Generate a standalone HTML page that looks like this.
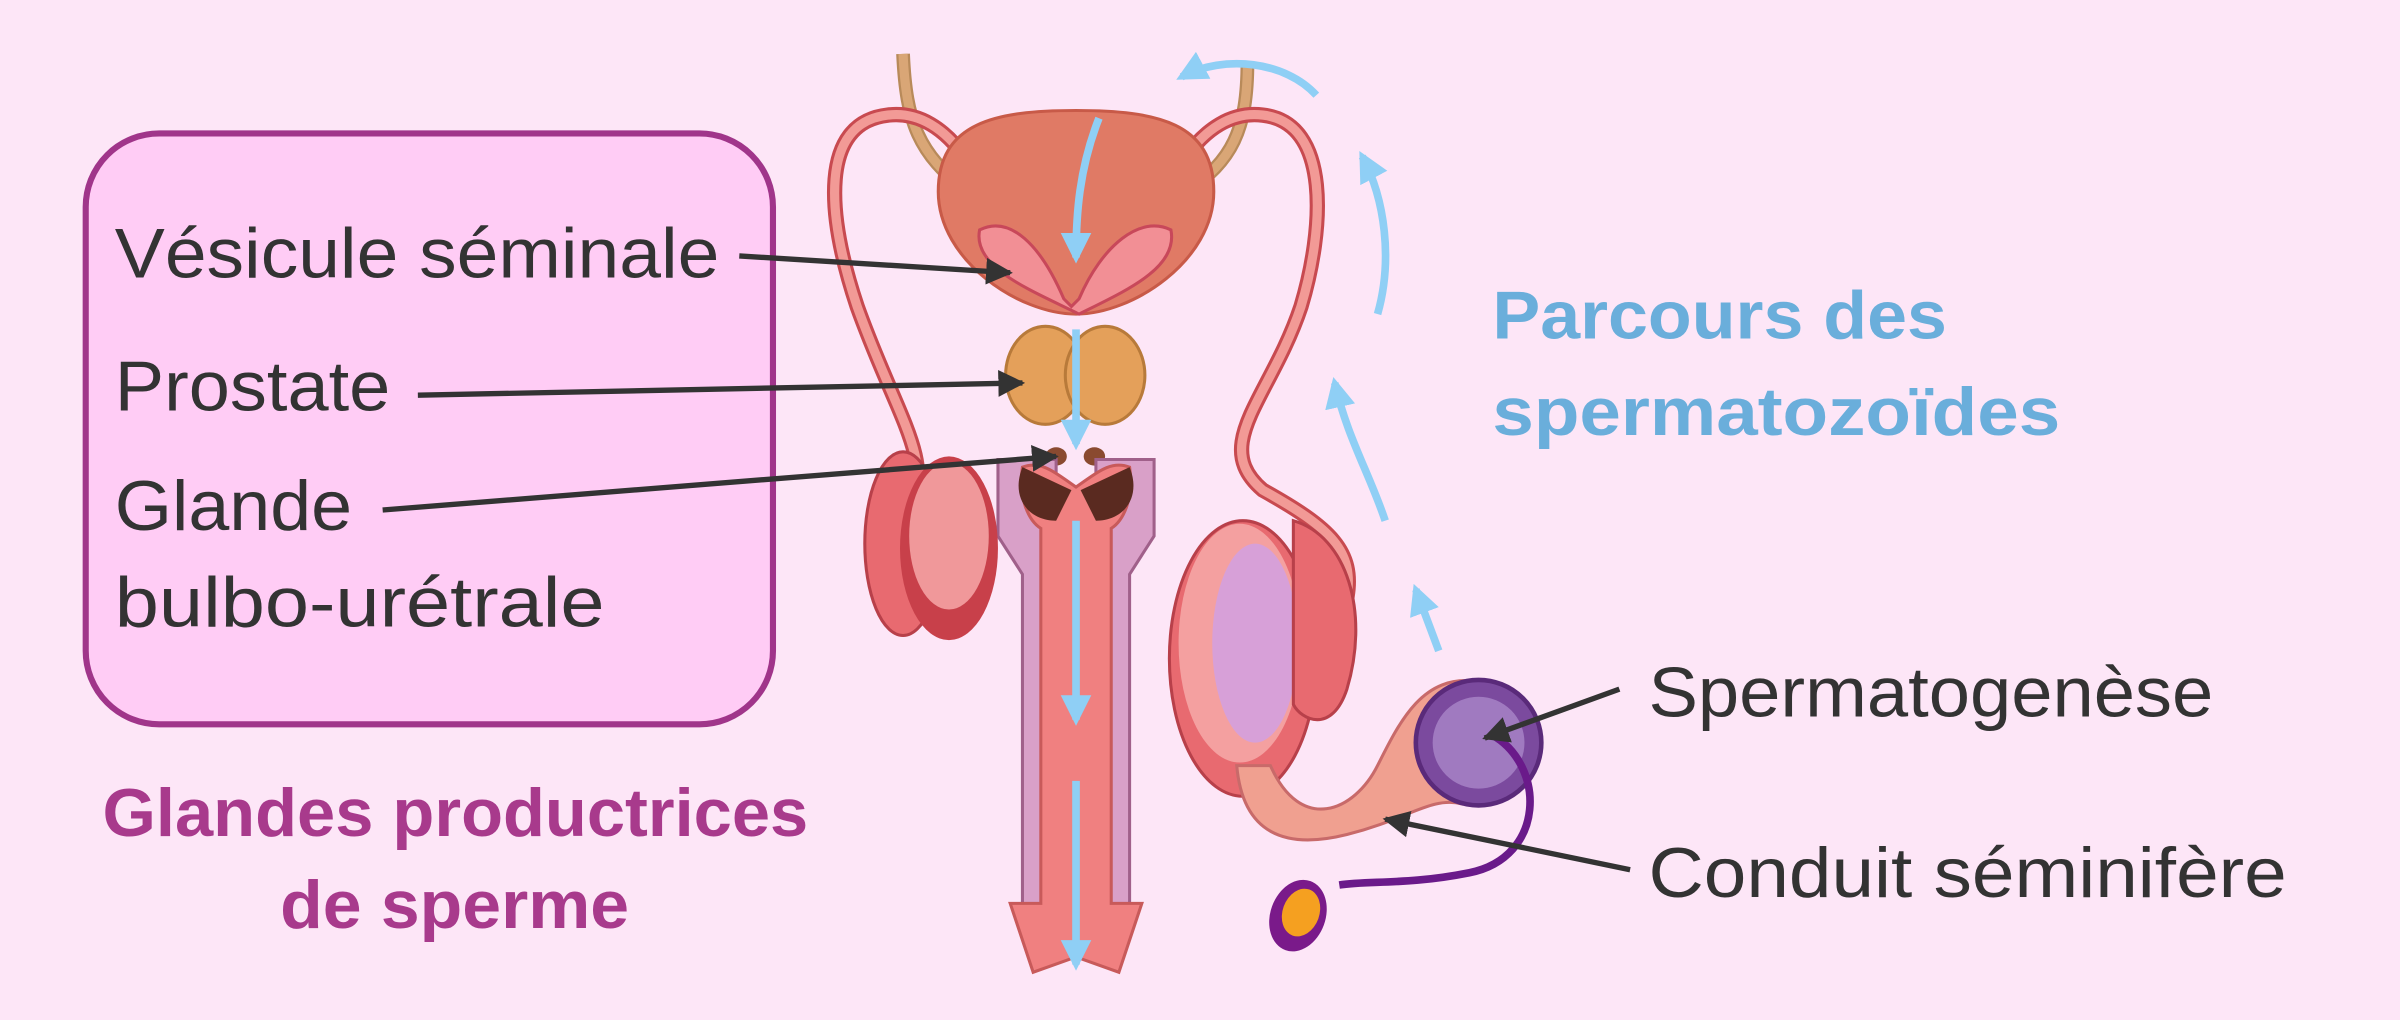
<!DOCTYPE html>
<html><head><meta charset="utf-8"><style>
html,body{margin:0;padding:0;background:#fde6f7;}
svg{display:block}
text{font-family:"Liberation Sans",sans-serif}
</style></head><body>
<svg width="2400" height="1020" viewBox="0 0 1568 666" xmlns="http://www.w3.org/2000/svg">
<defs>
<marker id="ah" viewBox="0 0 10 10" refX="9" refY="5" markerWidth="5" markerHeight="5" orient="auto"><path d="M0,0 L10,5 L0,10 z" fill="#333"/></marker>
<marker id="bh" viewBox="0 0 10 10" refX="8" refY="5" markerWidth="4" markerHeight="4" orient="auto"><path d="M0,0 L10,5 L0,10 z" fill="#8fcff5"/></marker>
</defs>
<rect width="1568" height="666" fill="#fde6f7"/>
<rect x="56" y="87" width="449" height="386" rx="48" fill="#ffccf5" stroke="#a0358a" stroke-width="4"/>

<path d="M590,35 C592,80 600,100 632,125" stroke="#b88a5a" stroke-width="9" fill="none"/>
<path d="M590,35 C592,80 600,100 632,125" stroke="#d9a676" stroke-width="6" fill="none"/>
<path d="M815,40 C815,85 805,105 775,125" stroke="#b88a5a" stroke-width="9" fill="none"/>
<path d="M815,40 C815,85 805,105 775,125" stroke="#d9a676" stroke-width="6" fill="none"/>
<path d="M660,185 C650,120 620,70 580,75 C535,80 540,140 560,200 C585,270 610,300 595,330" stroke="#c84a50" stroke-width="10" fill="none"/>
<path d="M660,185 C650,120 620,70 580,75 C535,80 540,140 560,200 C585,270 610,300 595,330" stroke="#f29a96" stroke-width="6" fill="none"/>
<path d="M745,185 C755,120 785,70 825,75 C870,80 865,150 850,200 C830,260 790,290 825,320 C870,345 885,360 880,390" stroke="#c84a50" stroke-width="10" fill="none"/>
<path d="M745,185 C755,120 785,70 825,75 C870,80 865,150 850,200 C830,260 790,290 825,320 C870,345 885,360 880,390" stroke="#f29a96" stroke-width="6" fill="none"/>
<path d="M613,125 C613,80 650,72 703,72 C756,72 793,80 793,125 C793,170 740,205 703,205 C666,205 613,170 613,125 z" fill="#e07a65" stroke="#c85a48" stroke-width="2"/>
<path d="M640,150 C660,140 680,160 695,195 L700,200 L705,195 C720,160 745,140 765,150 C770,175 735,190 705,205 C675,190 635,175 640,150z" fill="#f28f95" stroke="#c8485a" stroke-width="2"/>
<ellipse cx="683" cy="245" rx="26" ry="32" fill="#e4a05a" stroke="#b87a3a" stroke-width="2"/>
<ellipse cx="722" cy="245" rx="26" ry="32" fill="#e4a05a" stroke="#b87a3a" stroke-width="2"/>
<ellipse cx="690" cy="298" rx="7" ry="6" fill="#8a4a30"/>
<ellipse cx="715" cy="298" rx="7" ry="6" fill="#8a4a30"/>
<path d="M652,300 L652,350 L668,375 L668,610 L690,610 L690,300z" fill="#d9a0c8" stroke="#a0608a" stroke-width="2"/>
<path d="M754,300 L754,350 L738,375 L738,610 L716,610 L716,300z" fill="#d9a0c8" stroke="#a0608a" stroke-width="2"/>
<path d="M668,305 C665,325 672,340 680,345 L680,590 L660,590 L675,635 L703,625 L731,635 L746,590 L726,590 L726,345 C734,340 741,325 738,305 C725,300 715,310 703,318 C691,310 681,300 668,305z" fill="#f08080" stroke="#c85a5a" stroke-width="2"/>
<path d="M668,305 C660,325 672,340 690,340 L700,320z" fill="#5a2a20"/>
<path d="M738,305 C746,325 734,340 716,340 L706,320z" fill="#5a2a20"/>
<ellipse cx="590" cy="355" rx="25" ry="60" fill="#e86a70" stroke="#b8404a" stroke-width="2"/>
<ellipse cx="620" cy="358" rx="32" ry="60" fill="#c8404a"/>
<ellipse cx="620" cy="350" rx="26" ry="48" fill="#f0989a"/>
<ellipse cx="812" cy="430" rx="48" ry="90" fill="#e86a70" stroke="#b8404a" stroke-width="2"/>
<ellipse cx="810" cy="420" rx="40" ry="78" fill="#f4a0a0"/>
<ellipse cx="820" cy="420" rx="28" ry="65" fill="#d7a0d8"/>
<path d="M845,340 C880,350 895,400 880,450 C870,480 850,470 845,460z" fill="#e86a70" stroke="#b8404a" stroke-width="2"/>
<path d="M808,500 C812,545 840,555 880,545 C920,535 935,520 955,525 L965,445 C930,440 915,470 900,500 C885,530 850,545 830,500z" fill="#f0a090" stroke="#c86a6a" stroke-width="2"/>
<circle cx="966" cy="485" r="41" fill="#7b4a9e" stroke="#5a2a7a" stroke-width="3"/>
<circle cx="966" cy="485" r="30" fill="#a07ac0"/>
<path d="M975,480 C1010,500 1010,560 960,570 C920,578 895,575 875,578" stroke="#6a1a8a" stroke-width="5" fill="none"/>
<ellipse cx="848" cy="598" rx="18" ry="24" fill="#7a1a8a" transform="rotate(20 848 598)"/>
<ellipse cx="850" cy="596" rx="12" ry="16" fill="#f5a020" transform="rotate(20 850 596)"/>

<g stroke="#8fcff5" stroke-width="5" fill="none" marker-end="url(#bh)">
<path d="M718,77 C705,110 703,140 703,168"/>
<path d="M703,215 L703,290"/>
<path d="M703,340 L703,470"/>
<path d="M703,510 L703,630"/>
<path d="M940,425 L925,385"/>
<path d="M905,340 C895,310 880,285 872,250"/>
<path d="M900,205 C910,170 905,130 890,102"/>
<path d="M860,62 C840,40 800,35 772,50"/>
</g>

<g stroke="#333" stroke-width="3.5" fill="none" marker-end="url(#ah)">
<line x1="483" y1="167" x2="660" y2="178"/>
<line x1="273" y1="258" x2="668" y2="250"/>
<line x1="250" y1="333" x2="690" y2="298"/>
<line x1="1058" y1="450" x2="970" y2="482"/>
<line x1="1065" y1="568" x2="905" y2="535"/>
</g>

<g fill="#333" font-size="46">
<text x="75" y="181" textLength="395" lengthAdjust="spacingAndGlyphs">Vésicule séminale</text>
<text x="75" y="268" textLength="180" lengthAdjust="spacingAndGlyphs">Prostate</text>
<text x="75" y="346" textLength="155" lengthAdjust="spacingAndGlyphs">Glande</text>
<text x="75" y="409" textLength="320" lengthAdjust="spacingAndGlyphs">bulbo-urétrale</text>
<text x="1077" y="468" textLength="369" lengthAdjust="spacingAndGlyphs">Spermatogenèse</text>
<text x="1077" y="586" textLength="417" lengthAdjust="spacingAndGlyphs">Conduit séminifère</text>
</g>
<g font-weight="bold" font-size="44">
<text x="67" y="546" fill="#a83a8c" textLength="461" lengthAdjust="spacingAndGlyphs">Glandes productrices</text>
<text x="183" y="606" fill="#a83a8c" textLength="228" lengthAdjust="spacingAndGlyphs">de sperme</text>
<text x="975" y="221" fill="#6aaedb" textLength="297" lengthAdjust="spacingAndGlyphs">Parcours des</text>
<text x="975" y="284" fill="#6aaedb" textLength="371" lengthAdjust="spacingAndGlyphs">spermatozoïdes</text>
</g>
</svg>
</body></html>
